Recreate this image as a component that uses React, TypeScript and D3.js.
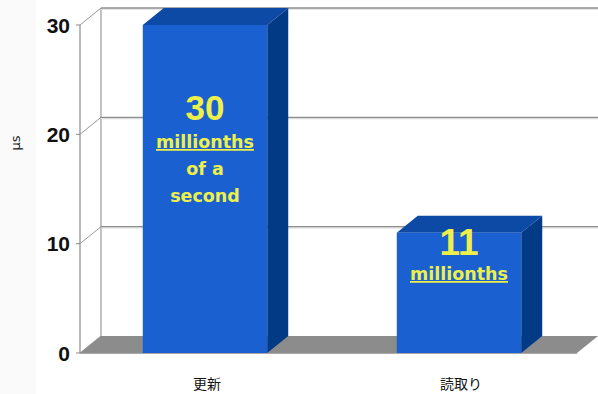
import React from "react";
import * as d3 from "d3";

const categories = ["更新", "読取り"];
const values = [30, 11];
const bigLabels = ["30", "11"];
const subLabels = [["millionths", "of a", "second"], ["millionths"]];
const yTicks = [0, 10, 20, 30];
const axisTitle = "μs";

const W = 598;
const H = 394;
const DX = 21;
const DY = -17;

export default function App() {
  const y = d3.scaleLinear().domain([0, 30]).range([353, 25]);
  const x = d3.scaleBand<string>().domain(categories).range([78, 586]).paddingInner(0.51).paddingOuter(0.255);
  const x0 = 80;
  const xFrontEnd = 577;
  const y0 = y(0);

  const floor = d3.path();
  floor.moveTo(x0, y0);
  floor.lineTo(xFrontEnd, y0);
  floor.lineTo(xFrontEnd + DX, y0 + DY);
  floor.lineTo(x0 + DX, y0 + DY);
  floor.closePath();

  const bigSizes = [35, 37];
  const bigBases = [120, 255];
  const subStarts = [148, 280];

  return (
    <svg width={W} height={H} style={{ position: "absolute", left: 0, top: 0, background: "#fff" }}>
      <rect x={0} y={0} width={36} height={H} fill="#fafafa" />
      {/* back wall left edge */}
      <line x1={x0 + DX} x2={x0 + DX} y1={y(30) + DY} y2={y0 + DY} stroke="#9a9a9a" strokeWidth={1.2} />
      {/* gridlines */}
      {yTicks.map((t) => (
        <g key={"g" + t}>
          {t > 0 && (
            <>
              <line x1={x0 + DX} x2={W} y1={y(t) + DY + 1.2} y2={y(t) + DY + 1.2} stroke="#dcdcdc" strokeWidth={1.2} />
              <line x1={x0 + DX} x2={W} y1={y(t) + DY} y2={y(t) + DY} stroke="#8f8f8f" strokeWidth={1.3} />
            </>
          )}
          <line x1={x0} x2={x0 + DX} y1={y(t)} y2={y(t) + DY} stroke="#9a9a9a" strokeWidth={1} />
          <line x1={x0 - 4} x2={x0} y1={y(t)} y2={y(t)} stroke="#888" strokeWidth={1} />
          <text
            x={70}
            y={y(t)}
            dy="0.36em"
            textAnchor="end"
            fontFamily="Liberation Sans, Arial, sans-serif"
            fontWeight="bold"
            fontSize={21}
            fill="#111"
          >
            {t}
          </text>
        </g>
      ))}
      {/* floor */}
      <path d={floor.toString()} fill="#8c8c8c" />
      <line x1={x0} x2={xFrontEnd} y1={y0 + 0.5} y2={y0 + 0.5} stroke="#a8a8a8" strokeWidth={1} />
      {/* front axis */}
      <line x1={x0} x2={x0} y1={y(30)} y2={y0} stroke="#8a8a8a" strokeWidth={1.2} />

      {/* bars */}
      {categories.map((c, i) => {
        const bx = x(c)!;
        const bw = x.bandwidth();
        const top = y(values[i]);
        const topPath = d3.path();
        topPath.moveTo(bx, top);
        topPath.lineTo(bx + bw, top);
        topPath.lineTo(bx + bw + DX, top + DY);
        topPath.lineTo(bx + DX, top + DY);
        topPath.closePath();
        const side = d3.path();
        side.moveTo(bx + bw, top);
        side.lineTo(bx + bw + DX, top + DY);
        side.lineTo(bx + bw + DX, y0 + DY);
        side.lineTo(bx + bw, y0);
        side.closePath();
        const cx = bx + bw / 2;
        return (
          <g key={c}>
            <path d={side.toString()} fill="#033a86" />
            <path d={topPath.toString()} fill="#0c4aa6" />
            <rect x={bx} y={top} width={bw} height={y0 - top} fill="#1b60d0" />
            <text
              x={cx}
              y={bigBases[i]}
              textAnchor="middle"
              fontFamily="Liberation Sans, Arial, sans-serif"
              fontWeight="bold"
              fontSize={bigSizes[i]}
              fill="#eef04a"
            >
              {bigLabels[i]}
            </text>
            {subLabels[i].map((s, j) => (
              <text
                key={s}
                x={cx}
                y={subStarts[i] + j * 27}
                textAnchor="middle"
                fontFamily="DejaVu Sans, Verdana, sans-serif"
                fontWeight="bold"
                fontSize={17.5}
                fill="#eef04a"
                textDecoration={j === 0 ? "underline" : undefined}
              >
                {s}
              </text>
            ))}
            <text
              x={cx + 2}
              y={389}
              textAnchor="middle"
              fontFamily="Noto Sans CJK JP, sans-serif"
              fontSize={14}
              fill="#111"
            >
              {c}
            </text>
          </g>
        );
      })}
      <text
        transform={`translate(20,${143}) rotate(-90)`}
        textAnchor="middle"
        fontFamily="DejaVu Sans, sans-serif"
        fontSize={13}
        fill="#222"
      >
        {axisTitle}
      </text>
    </svg>
  );
}
